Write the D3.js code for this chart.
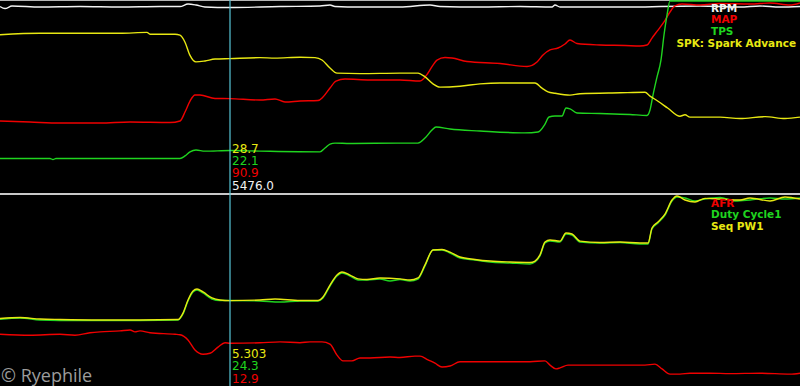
<!DOCTYPE html>
<html>
<head>
<meta charset="utf-8">
<script src="https://cdn.jsdelivr.net/npm/d3@7"></script>
<style>
  html, body { margin: 0; padding: 0; background: #000; }
  svg { display: block; }
</style>
</head>
<body>
<div id="chart"></div>
<script>
/**
 * CONSTANTS AND GLOBALS
 * */
const width = 800,
  height = 386,
  topPanel = { y0: 1, y1: 193 },
  bottomPanel = { y0: 196, y1: 386 };

// time in seconds, cursor position
const timeDomain = [0, 80];
const cursorT = 23.0;

/**
 * DATA  [time (s), value]
 * */
// top panel
const rpm = [[0,5507],[0.5,5448],[1.2,5522],[4.0,5492],[8.0,5507],[12.0,5492],[16.0,5507],[18.0,5507],[18.8,5581],[19.6,5552],[20.5,5492],[23.0,5476],[28.0,5507],[32.0,5522],[33.0,5552],[33.5,5507],[36.0,5492],[40.0,5492],[43.0,5552],[44.0,5507],[48.0,5492],[52.0,5507],[55.2,5492],[55.5,5552],[56.0,5492],[60.0,5492],[64.0,5492],[66.0,5507],[70.0,5522],[74.0,5492],[76.0,5522],[78.0,5492],[80.0,5507]];

const map = [[0,69.4],[3.0,68.4],[6.0,67.4],[10.0,67.4],[13.0,68.4],[17.0,67.9],[18.0,69.4],[18.5,78.0],[19.0,88.6],[19.5,94.4],[20.0,94.4],[21.5,91.1],[23.0,90.9],[26.0,89.6],[27.5,90.6],[28.5,87.7],[30.0,88.6],[31.8,89.1],[32.3,92.5],[33.0,101.2],[33.6,107.9],[34.5,109.8],[37.0,108.9],[40.0,108.9],[42.0,107.9],[42.8,115.6],[43.3,123.3],[43.7,128.1],[44.5,130.6],[45.2,130.1],[46.7,126.7],[50.0,124.8],[52.7,121.9],[53.7,126.2],[54.3,133.0],[55.0,137.8],[55.8,139.7],[56.5,143.6],[57.0,147.4],[57.7,144.0],[60.0,142.6],[62.5,142.1],[64.0,141.6],[64.7,142.6],[65.2,149.3],[65.8,157.0],[66.4,164.8],[67.0,174.4],[67.5,180.2],[68.2,182.1],[70.0,181.1],[72.0,182.6],[75.0,182.1],[77.0,183.1],[79.0,181.1],[80.0,183.1]];

const tps = [[0,18.0],[5.0,18.0],[5.3,17.4],[5.6,18.0],[18.0,18.0],[18.5,19.3],[19.0,21.4],[19.6,22.4],[20.5,21.8],[23.0,22.1],[26.0,21.8],[32.0,21.4],[32.5,23.4],[33.0,25.5],[33.5,26.0],[35.0,25.8],[40.0,26.0],[41.8,26.0],[42.5,28.6],[43.2,32.8],[43.6,34.4],[45.0,33.3],[48.0,32.3],[52.5,31.3],[53.8,31.8],[54.5,35.9],[54.9,39.6],[55.5,40.1],[56.2,40.1],[56.6,44.3],[57.0,43.8],[57.7,41.7],[60.0,41.4],[63.0,40.9],[64.7,40.4],[65.0,43.2],[65.3,51.0],[65.7,60.4],[66.1,69.3],[66.4,82.3],[66.7,92.7],[67.0,100],[80.0,100]];

const spk = [[0,33.8],[4.0,34.1],[8.0,34.1],[12.0,34.1],[14.7,34.3],[15.0,33.9],[17.5,33.9],[18.0,33.7],[18.5,32.2],[19.0,29.4],[19.6,28.0],[20.5,28.2],[21.5,28.6],[23.0,28.7],[26.0,28.9],[27.5,28.8],[30.0,29.0],[31.5,28.9],[32.2,28.4],[33.0,26.7],[33.7,25.6],[36.0,25.5],[40.0,25.6],[41.8,25.6],[42.5,24.8],[43.3,23.3],[44.0,22.6],[46.0,22.8],[48.0,23.3],[50.0,23.5],[53.5,23.5],[54.2,22.4],[54.8,21.6],[55.5,21.3],[57.0,20.9],[58.0,21.2],[62.0,21.4],[64.5,21.5],[65.0,20.7],[65.8,19.6],[66.8,18.1],[68.0,16.4],[68.5,16.7],[69.0,16.2],[72.0,16.2],[74.0,15.9],[76.5,16.3],[78.5,15.9],[80.0,16.2]];

// bottom panel
const afr = [[0,13.09],[3.0,13.07],[6.0,13.09],[7.5,13.07],[9.0,13.12],[10.0,13.14],[12.0,13.16],[13.0,13.18],[13.5,13.14],[14.0,13.16],[15.0,13.12],[17.5,13.09],[18.0,13.08],[18.8,12.97],[19.5,12.76],[20.3,12.67],[21.0,12.69],[21.8,12.82],[22.5,12.91],[23.0,12.9],[26.0,12.91],[28.0,12.93],[30.0,12.91],[31.0,12.93],[32.2,12.93],[33.0,12.88],[33.7,12.65],[34.3,12.53],[35.2,12.53],[36.0,12.59],[37.0,12.59],[39.0,12.61],[40.0,12.60],[41.5,12.63],[42.0,12.63],[42.8,12.55],[43.5,12.48],[44.2,12.40],[45.0,12.42],[46.0,12.51],[47.0,12.51],[49.0,12.51],[51.0,12.51],[53.0,12.51],[54.5,12.53],[55.0,12.44],[55.6,12.36],[56.0,12.38],[56.8,12.44],[58.0,12.44],[60.0,12.44],[62.0,12.44],[64.5,12.44],[65.5,12.46],[66.2,12.36],[67.0,12.25],[68.0,12.25],[69.0,12.27],[71.0,12.27],[73.0,12.26],[76.0,12.27],[79.0,12.25],[80.0,12.27]];

const dutyCycle = [[0,18.98],[2.0,19.33],[4.0,18.76],[6.0,18.62],[10.0,18.62],[14.0,18.62],[17.8,18.76],[18.3,20.46],[18.8,24.16],[19.3,26.71],[19.7,27.28],[20.3,26.43],[21.2,24.73],[22.0,24.30],[23.0,24.3],[26.0,24.16],[28.0,23.87],[30.0,24.16],[31.8,24.16],[32.3,25.01],[33.0,28.42],[33.7,31.26],[34.2,32.11],[35.0,31.26],[35.8,30.13],[36.7,30.13],[38.0,30.41],[39.0,29.84],[40.0,30.27],[41.0,29.84],[41.8,30.41],[42.5,34.10],[43.3,38.65],[44.2,38.65],[45.0,37.80],[46.0,36.38],[47.5,35.81],[49.0,35.24],[51.0,34.96],[53.0,34.67],[53.5,35.24],[54.0,36.95],[54.5,40.64],[55.0,41.21],[56.0,40.93],[56.6,43.20],[57.2,42.91],[58.0,40.93],[60.0,40.64],[62.0,40.78],[64.0,40.36],[64.8,40.36],[65.2,44.62],[65.8,46.33],[66.5,48.60],[67.2,52.58],[67.7,53.71],[68.5,53.43],[69.5,52.58],[70.5,53.14],[72.0,53.57],[73.5,52.58],[75.0,52.86],[77.0,53.43],[78.5,53.14],[80.0,53.43]];

const seqPW = [[0,4.19],[2.0,4.25],[4.0,4.16],[6.0,4.13],[10.0,4.10],[14.0,4.10],[17.8,4.13],[18.3,4.53],[18.8,5.34],[19.3,5.90],[19.7,6.02],[20.3,5.84],[21.2,5.47],[22.0,5.34],[23.0,5.303],[26.0,5.34],[27.5,5.40],[30.0,5.31],[31.8,5.31],[32.3,5.53],[33.0,6.27],[33.7,6.89],[34.2,7.08],[35.0,6.89],[35.8,6.65],[36.7,6.61],[38.0,6.71],[40.0,6.65],[41.0,6.58],[41.8,6.71],[42.5,7.52],[43.3,8.45],[44.2,8.48],[45.0,8.32],[46.0,8.01],[47.5,7.86],[49.0,7.76],[51.0,7.70],[53.0,7.67],[53.5,7.76],[54.0,8.14],[54.5,8.94],[55.0,9.07],[56.0,9.00],[56.6,9.50],[57.2,9.44],[58.0,9.00],[60.0,8.91],[62.0,8.94],[64.0,8.88],[64.8,8.88],[65.2,9.81],[65.8,10.19],[66.5,10.68],[67.2,11.55],[67.7,11.80],[68.5,11.55],[69.5,11.43],[70.5,11.65],[72.0,11.61],[74.0,11.55],[75.0,11.68],[77.0,11.49],[78.5,11.74],[80.0,11.61]];

// series setup: legend name, colour, value range, readout format
const topSeries = [
  { name: "RPM", data: rpm, color: "#f2f2f2", domain: [0, 5670], fmt: ".1f" },
  { name: "MAP", data: map, color: "#f00000", domain: [0, 185], fmt: ".1f" },
  { name: "TPS", data: tps, color: "#1fd41f", domain: [0, 100], fmt: ".1f" },
  { name: "SPK: Spark Advance", data: spk, color: "#e8e812", domain: [0, 41], fmt: ".1f" },
];
const bottomSeries = [
  { name: "AFR", data: afr, color: "#f00000", domain: [12, 16], fmt: ".1f" },
  { name: "Duty Cycle1", data: dutyCycle, color: "#1fd41f", domain: [0, 54], fmt: ".1f" },
  { name: "Seq PW1", data: seqPW, color: "#e8e812", domain: [0, 11.8], fmt: ".3f" },
];

/**
 * DRAW
 * */
const svg = d3.select("#chart")
  .append("svg")
  .attr("width", width)
  .attr("height", height)
  .style("background", "#000");

const x = d3.scaleLinear().domain(timeDomain).range([0, width]);

// panel frames
svg.append("line")
  .attr("x1", 0).attr("x2", width)
  .attr("y1", 0.5).attr("y2", 0.5)
  .attr("stroke", "#b4b4b4").attr("stroke-width", 1);
svg.append("rect")
  .attr("x", 0).attr("y", 193)
  .attr("width", width).attr("height", 2)
  .attr("fill", "#c8c8c8");

function drawPanel(series, panel, id) {
  svg.append("clipPath").attr("id", id)
    .append("rect")
    .attr("x", 0).attr("y", panel.y0 - 1)
    .attr("width", width).attr("height", panel.y1 - panel.y0 + 1);

  const g = svg.append("g").attr("clip-path", `url(#${id})`);

  series.forEach(s => {
    s.y = d3.scaleLinear().domain(s.domain).range([panel.y1, panel.y0]);
    const line = d3.line()
      .x(d => x(d[0]))
      .y(d => s.y(d[1]))
      .curve(d3.curveMonotoneX);
    g.append("path")
      .datum(s.data)
      .attr("fill", "none")
      .attr("stroke", s.color)
      .attr("stroke-width", 1.4)
      .attr("stroke-linejoin", "round")
      .attr("d", line);
  });

  // legend, top right
  const legend = svg.append("g");
  series.forEach((s, i) => {
    const t = legend.append("text")
      .attr("y", panel.y0 + 10.5 + i * 11.7)
      .attr("fill", s.color)
      .style("font-family", "'DejaVu Sans', sans-serif")
      .style("font-weight", "bold")
      .style("font-size", "10.5px")
      .text(s.name);
    const w = t.node().getComputedTextLength();
    t.attr("x", Math.min(711, width - 4 - w));
  });

  // cursor readouts, listed bottom-up
  const readout = svg.append("g");
  const rev = series.slice().reverse();
  const lastBase = panel.y1 - 3.5;
  rev.forEach((s, i) => {
    const pt = s.data.find(d => d[0] === cursorT);
    readout.append("text")
      .attr("x", x(cursorT) + 2)
      .attr("y", lastBase - (rev.length - 1 - i) * 12.3)
      .attr("fill", s.color)
      .style("font-family", "'DejaVu Sans', sans-serif")
      .style("font-size", "12px")
      .text(d3.format(s.fmt)(pt[1]));
  });
}

drawPanel(topSeries, topPanel, "clipTop");
drawPanel(bottomSeries, bottomPanel, "clipBottom");

// cursor
svg.append("line")
  .attr("x1", x(cursorT)).attr("x2", x(cursorT))
  .attr("y1", 0).attr("y2", height)
  .attr("stroke", "#58c6d8")
  .attr("stroke-width", 1.2);

// watermark
svg.append("text")
  .attr("x", 1)
  .attr("y", 381.5)
  .attr("fill", "#9c9c9c")
  .style("font-family", "'Open Sans', sans-serif")
  .style("font-size", "18px")
  .text("© Ryephile");
</script>
</body>
</html>
